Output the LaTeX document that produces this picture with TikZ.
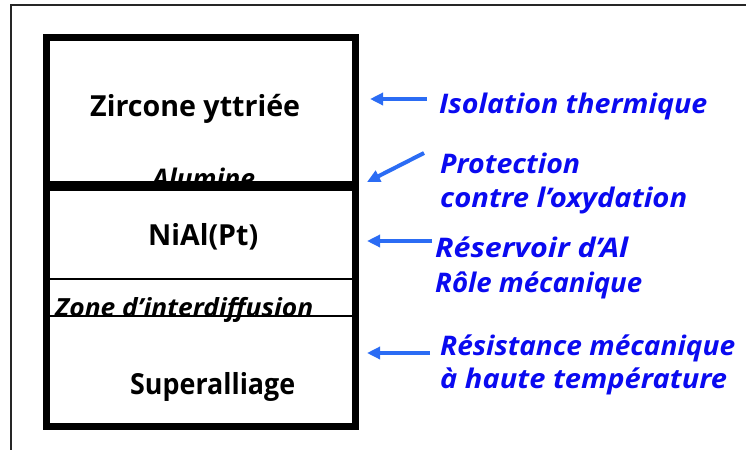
\documentclass[tikz,border=0pt]{standalone}
\usepackage{fontspec}
\setmainfont{Open Sans}
\usetikzlibrary{arrows.meta}
\definecolor{txtblue}{HTML}{0A0AF0}
\definecolor{arrblue}{HTML}{2B6CF4}
\newcommand{\fitw}[2]{\resizebox{#1pt}{\height}{#2}}
\begin{document}
\begin{tikzpicture}[x=1pt,y=-1pt,
  blk/.style={anchor=base west,inner sep=0pt,font=\fontsize{29}{34}\selectfont\bfseries,text=black},
  blki/.style={anchor=base west,inner sep=0pt,font=\fontsize{27}{32}\selectfont\bfseries\itshape,text=black},
  bl/.style={anchor=base west,inner sep=0pt,font=\fontsize{27}{32}\selectfont\bfseries\itshape,text=txtblue},
  arr/.style={line width=4pt,color=arrblue,-{Triangle[width=12pt,length=13pt]}},
  layerline/.style={line width=1.5pt}]
\useasboundingbox (0,0) rectangle (746,450);
% frame
\draw[line width=2pt,black!85] (746,5) -- (11.3,5) -- (11.3,450);
% layer texts
\node[blk]  (zirc)  at (90,116)  {\fitw{210}{Zircone yttriée}};
\node[blki] (alu)   at (152,188) {\fitw{103}{Alumine}};
\node[blk]  (nial)  at (148,245) {\fitw{110}{NiAl(Pt)}};
\node[blki,font=\fontsize{25}{30}\selectfont\bfseries\itshape] (zone) at (55,316) {\fitw{258}{Zone d’interdiffusion}};
\node[blk]  (sup)   at (130,394) {\fitw{165}{Superalliage}};
% box
\draw[line width=7pt] (46.5,37.5) rectangle (355.5,426.5);
\draw[line width=10pt] (46.5,186) -- (355.5,186);
\draw[layerline] (50,279) -- (352,279);
\draw[layerline] (50,316) -- (352,316);
% blue texts
\node[bl] (iso)  at (439,113) {\fitw{268}{Isolation thermique}};
\node[bl] (pro1) at (440,173) {\fitw{140}{Protection}};
\node[bl] (pro2) at (440,207) {\fitw{247}{contre l’oxydation}};
\node[bl] (res1) at (435,257) {\fitw{193}{Réservoir d’Al}};
\node[bl] (res2) at (435,292) {\fitw{207}{Rôle mécanique}};
\node[bl] (rm1)  at (440,355) {\fitw{295}{Résistance mécanique}};
\node[bl] (rm2)  at (440,388) {\fitw{287}{à haute température}};
% arrows
\coordinate (a1s) at (427,99);  \coordinate (a1e) at (370,99);
\coordinate (a2s) at (424,153); \coordinate (a2e) at (367,182);
\coordinate (a3s) at (432,241); \coordinate (a3e) at (367,241);
\coordinate (a4s) at (430,353); \coordinate (a4e) at (367,353);
\draw[arr] (a1s) -- (a1e);
\draw[arr] (a2s) -- (a2e);
\draw[arr] (a3s) -- (a3e);
\draw[arr] (a4s) -- (a4e);
\end{tikzpicture}
\end{document}
